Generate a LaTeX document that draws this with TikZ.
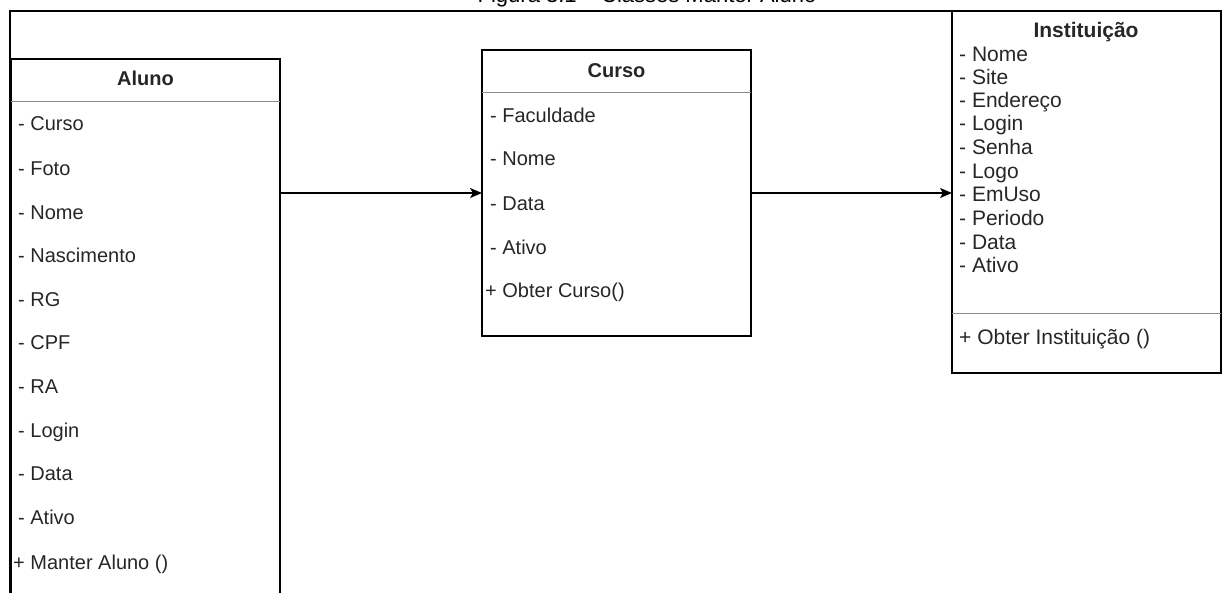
\documentclass[tikz,border=0pt]{standalone}
\usepackage{fontspec}
\setmainfont{Liberation Sans}
\usetikzlibrary{arrows.meta}

\tikzset{
  classbox/.style={draw=black, line width=1.4pt, fill=none, inner sep=0pt, outer sep=0pt, anchor=north west},
  frameline/.style={draw=black, line width=2.4pt},
  sepline/.style={draw=black!45, line width=1pt},
  head/.style={font=\fontsize{20}{24}\selectfont\bfseries, text=black!85, inner sep=0pt, anchor=base},
  attr/.style={font=\fontsize{20}{24}\selectfont, text=black!85, inner sep=0pt, anchor=base west},
  iattr/.style={font=\fontsize{21}{24}\selectfont, text=black!85, inner sep=0pt, anchor=base west},
  assoc/.style={draw=black, line width=1.4pt, -{Stealth[length=12pt,width=10pt,inset=3pt]}},
  caption/.style={font=\fontsize{22}{26}\selectfont, text=black, inner sep=0pt, anchor=base}
}

\begin{document}
\begin{tikzpicture}[x=1pt, y=-1pt]
  \useasboundingbox (0,0) rectangle (1223,592);
  \clip (0,0) rectangle (1223,592);

  % caption above the frame
  \node[caption] (cap) at (647,2.5) {Figura 3.1 – Classes Manter Aluno};

  % surrounding frame
  \coordinate (ftl) at (10,11);
  \coordinate (ftr) at (1221,11);
  \coordinate (fbl) at (10,600);
  \draw[frameline] (fbl) -- (ftl) -- (ftr);

  % class Aluno
  \node[classbox, minimum width=269pt, minimum height=560pt] (aluno) at (11,59) {};
  \node[head] (alunoh) at (145.5,85) {Aluno};
  \draw[sepline] (aluno.north west |- 0,101) -- (aluno.north east |- 0,101);
  \node[attr] (a1) at (18,130) {- Curso};
  \node[attr] (a2) at (18,175) {- Foto};
  \node[attr] (a3) at (18,219) {- Nome};
  \node[attr] (a4) at (18,262) {- Nascimento};
  \node[attr] (a5) at (18,306) {- RG};
  \node[attr] (a6) at (18,349) {- CPF};
  \node[attr] (a7) at (18,393) {- RA};
  \node[attr] (a8) at (18,437) {- Login};
  \node[attr] (a9) at (18,480) {- Data};
  \node[attr] (a10) at (18,524) {- Ativo};
  \node[attr] (a11) at (13,569) {+ Manter Aluno ()};

  % class Curso
  \node[classbox, minimum width=269pt, minimum height=286pt] (curso) at (482,50) {};
  \node[head] (cursoh) at (616.5,77) {Curso};
  \draw[sepline] (curso.north west |- 0,92) -- (curso.north east |- 0,92);
  \node[attr] (c1) at (490,122) {- Faculdade};
  \node[attr] (c2) at (490,165) {- Nome};
  \node[attr] (c3) at (490,210) {- Data};
  \node[attr] (c4) at (490,254) {- Ativo};
  \node[attr] (c5) at (485,297) {+ Obter Curso()};

  % class Instituicao
  \node[classbox, minimum width=269pt, minimum height=362pt] (inst) at (952,11) {};
  \node[head, font=\fontsize{21}{24}\selectfont\bfseries] (insth) at (1086,37.5) {Instituição};
  \node[iattr] (i1) at (959,61.5) {- Nome};
  \node[iattr] (i2) at (959,84.5) {- Site};
  \node[iattr] (i3) at (959,107.5) {- Endereço};
  \node[iattr] (i4) at (959,130.5) {- Login};
  \node[iattr] (i5) at (959,154.5) {- Senha};
  \node[iattr] (i6) at (959,178.5) {- Logo};
  \node[iattr] (i7) at (959,201.5) {- EmUso};
  \node[iattr] (i8) at (959,225.5) {- Periodo};
  \node[iattr] (i9) at (959,249.5) {- Data};
  \node[iattr] (i10) at (959,272.5) {- Ativo};
  \draw[sepline] (inst.north west |- 0,313) -- (inst.north east |- 0,313);
  \node[iattr] (i11) at (959,344) {+ Obter Instituição ()};

  % associations
  \draw[assoc] (aluno.east |- curso.west) -- (curso.west);
  \draw[assoc] (curso.east) -- (inst.west |- curso.east);
\end{tikzpicture}
\end{document}
